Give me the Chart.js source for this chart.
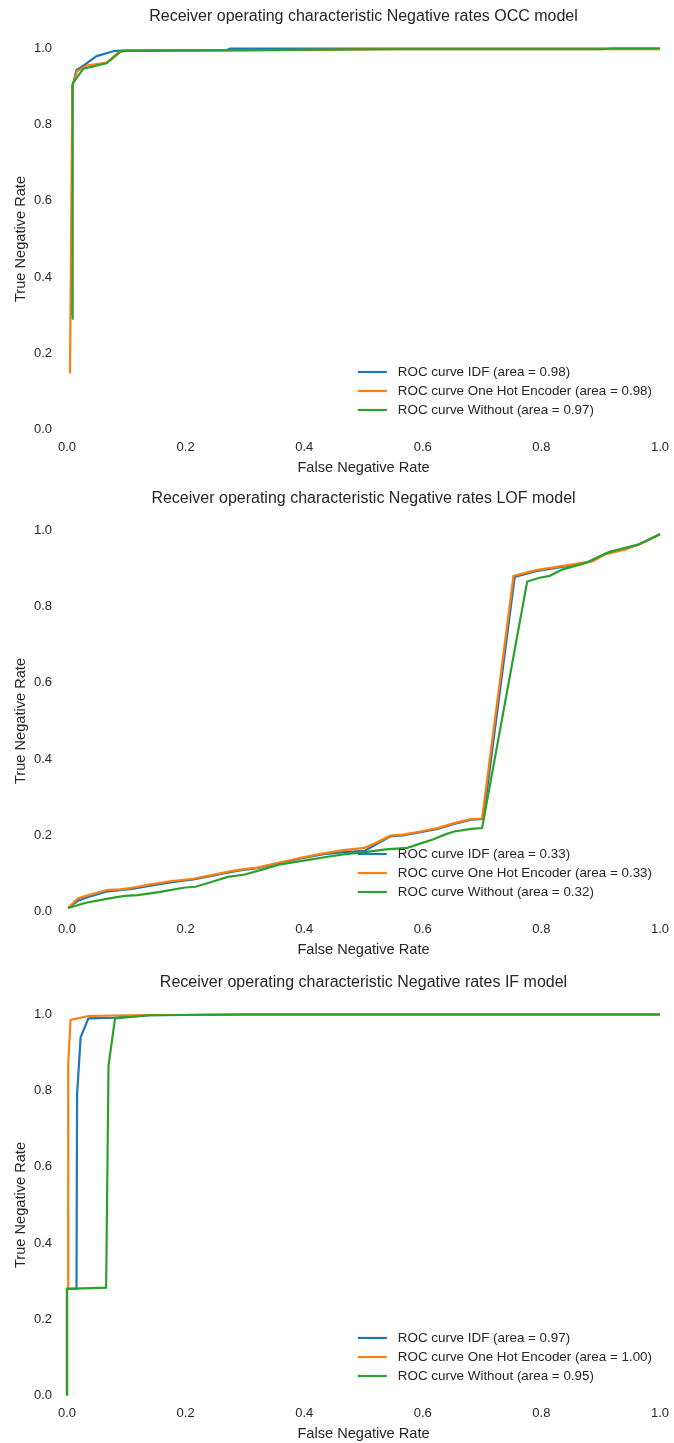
<!DOCTYPE html>
<html>
<head>
<meta charset="utf-8">
<script src="https://cdn.jsdelivr.net/npm/chart.js@4.4.1/dist/chart.umd.min.js"></script>
<style>
  html, body { margin: 0; padding: 0; background: #ffffff; overflow: hidden; }
  .panel { position: absolute; left: 0; width: 674px; height: 482px; }
</style>
</head>
<body>
<div class="panel" style="top:0px"><canvas id="occChart"></canvas></div>
<div class="panel" style="top:482px"><canvas id="lofChart"></canvas></div>
<div class="panel" style="top:966px"><canvas id="ifChart"></canvas></div>
<script>
// ROC points as [false negative rate, true negative rate]
const occIdf = [[0.008,0.30],[0.009,0.90],[0.016,0.943],[0.033,0.961],[0.05,0.98],[0.081,0.994],[0.15,0.995],[0.27,0.996],[0.275,1.0],[1.0,1.0]];
const occOneHot = [[0.005,0.147],[0.009,0.90],[0.017,0.94],[0.033,0.955],[0.067,0.963],[0.087,0.99],[0.1,0.995],[0.3,0.995],[0.55,0.998],[1.0,0.998]];
const occWithout = [[0.009,0.29],[0.0095,0.908],[0.0276,0.947],[0.0667,0.961],[0.092,0.994],[0.25,0.995],[0.55,0.998],[0.9,0.998],[0.92,1.0],[1.0,1.0]];

const lofIdf = [[0.002,0.009],[0.018,0.028],[0.036,0.038],[0.069,0.053],[0.09,0.056],[0.112,0.06],[0.141,0.068],[0.177,0.077],[0.213,0.084],[0.242,0.093],[0.264,0.1],[0.292,0.108],[0.321,0.114],[0.357,0.127],[0.394,0.139],[0.43,0.15],[0.466,0.156],[0.502,0.159],[0.523,0.178],[0.545,0.197],[0.567,0.2],[0.596,0.208],[0.625,0.217],[0.653,0.23],[0.682,0.241],[0.702,0.243],[0.755,0.878],[0.791,0.893],[0.853,0.909],[0.887,0.92],[0.909,0.94],[0.943,0.953],[0.965,0.964],[1.0,0.99]];
const lofOneHot = [[0.002,0.009],[0.018,0.034],[0.036,0.043],[0.069,0.057],[0.09,0.058],[0.112,0.063],[0.141,0.071],[0.177,0.08],[0.213,0.086],[0.242,0.095],[0.264,0.102],[0.292,0.11],[0.321,0.115],[0.357,0.128],[0.394,0.141],[0.43,0.152],[0.466,0.161],[0.502,0.167],[0.523,0.182],[0.545,0.199],[0.567,0.202],[0.596,0.21],[0.625,0.219],[0.653,0.232],[0.682,0.243],[0.70,0.244],[0.753,0.881],[0.791,0.896],[0.853,0.911],[0.887,0.92],[0.909,0.938],[0.943,0.951],[0.965,0.964],[1.0,0.99]];
const lofWithout = [[0.002,0.009],[0.032,0.023],[0.069,0.034],[0.097,0.041],[0.119,0.043],[0.155,0.051],[0.199,0.063],[0.217,0.065],[0.249,0.08],[0.271,0.091],[0.30,0.097],[0.329,0.11],[0.357,0.123],[0.394,0.132],[0.437,0.143],[0.466,0.15],[0.502,0.156],[0.538,0.163],[0.574,0.167],[0.603,0.182],[0.617,0.189],[0.639,0.203],[0.653,0.21],[0.682,0.217],[0.70,0.219],[0.776,0.866],[0.797,0.876],[0.814,0.881],[0.836,0.898],[0.875,0.915],[0.892,0.928],[0.915,0.944],[0.943,0.955],[0.965,0.964],[1.0,0.99]];

const ifIdf = [[0.0,0.0],[0.0,0.28],[0.016,0.28],[0.017,0.79],[0.023,0.94],[0.036,0.99],[0.081,0.992],[0.14,0.998],[0.3,1.0],[1.0,1.0]];
const ifOneHot = [[0.0,0.0],[0.0,0.28],[0.002,0.28],[0.002,0.87],[0.006,0.986],[0.036,0.996],[0.1,0.998],[0.3,1.0],[1.0,1.0]];
const ifWithout = [[0.0,0.0],[0.0,0.28],[0.066,0.283],[0.07,0.866],[0.081,0.99],[0.14,0.998],[0.3,1.0],[1.0,1.0]];

const modelTitles = [
  'Receiver operating characteristic Negative rates OCC model',
  'Receiver operating characteristic Negative rates LOF model',
  'Receiver operating characteristic Negative rates IF model'
];
const seriesNames = ['ROC curve IDF', 'ROC curve One Hot Encoder', 'ROC curve Without'];
const occAreas = ['0.98', '0.98', '0.97'];
const lofAreas = ['0.33', '0.33', '0.32'];
const ifAreas = ['0.97', '1.00', '0.95'];
const axisTicks = [0, 0.2, 0.4, 0.6, 0.8, 1.0];

const FONT = "'Liberation Sans', Arial, Helvetica, sans-serif";
const TEXT = '#262626';
const COLORS = ['#1f77b4', '#ff7f0e', '#2ca02c'];

Chart.defaults.font.family = FONT;
Chart.defaults.color = TEXT;

// Title centred over the plot area rather than the whole canvas
const panelTitle = {
  id: 'panelTitle',
  afterDraw(chart, args, opts) {
    const { ctx, chartArea } = chart;
    ctx.save();
    ctx.font = opts.size + 'px ' + FONT;
    ctx.fillStyle = TEXT;
    ctx.textAlign = 'center';
    ctx.textBaseline = 'middle';
    ctx.fillText(opts.text, (chartArea.left + chartArea.right) / 2, opts.y);
    ctx.restore();
  }
};

// Legend drawn inside the plot area, anchored to its lower right corner
const cornerLegend = {
  id: 'cornerLegend',
  afterDatasetsDraw(chart, args, opts) {
    const { ctx, chartArea } = chart;
    const items = chart.data.datasets;
    ctx.save();
    ctx.font = opts.size + 'px ' + FONT;
    const maxW = Math.max(...items.map(d => ctx.measureText(d.label).width));
    const textLeft = chartArea.right - opts.rightInset - maxW;
    const n = items.length;
    items.forEach((d, i) => {
      const y = chartArea.bottom - opts.bottomInset - (n - 1 - i) * opts.rowGap;
      ctx.strokeStyle = d.borderColor;
      ctx.lineWidth = 2.2;
      ctx.beginPath();
      ctx.moveTo(textLeft - 40, y);
      ctx.lineTo(textLeft - 11, y);
      ctx.stroke();
      ctx.fillStyle = TEXT;
      ctx.textAlign = 'left';
      ctx.textBaseline = 'middle';
      ctx.fillText(d.label, textLeft, y);
    });
    ctx.restore();
  }
};

function toPoints(pairs) {
  return pairs.map(p => ({ x: p[0], y: p[1] }));
}

function makeChart(canvasId, title, series, areas) {
  const datasets = series.map((pts, i) => ({
    label: seriesNames[i] + ' (area = ' + areas[i] + ')',
    data: toPoints(pts),
    borderColor: COLORS[i],
    backgroundColor: COLORS[i],
    borderWidth: 2.2,
    pointRadius: 0,
    tension: 0,
    fill: false,
    clip: false,
    order: series.length - 1 - i
  }));
  const tickOpts = {
    font: { size: 13 },
    color: TEXT,
    autoSkip: false
  };
  return new Chart(document.getElementById(canvasId), {
    type: 'line',
    data: { datasets },
    plugins: [cornerLegend, panelTitle],
    options: {
      responsive: true,
      maintainAspectRatio: false,
      animation: false,
      events: [],
      layout: { padding: { left: 0, right: 14, top: 48.5, bottom: 0 } },
      plugins: {
        legend: { display: false },
        tooltip: { enabled: false },
        title: { display: false },
        panelTitle: { text: title, size: 16, y: 17 },
        cornerLegend: { size: 13.4, rightInset: 8, bottomInset: 19.5, rowGap: 19 }
      },
      scales: {
        x: {
          type: 'linear',
          min: 0,
          max: 1,
          grid: { display: false, drawTicks: false },
          border: { display: false },
          afterBuildTicks: s => { s.ticks = axisTicks.map(v => ({ value: v })); },
          afterFit: s => { s.height = 52.5; s.paddingLeft = 0; s.paddingRight = 0; },
          ticks: Object.assign({ padding: 10.5, callback: v => v.toFixed(1) }, tickOpts),
          title: {
            display: true,
            text: 'False Negative Rate',
            color: TEXT,
            font: { size: 14.6 },
            padding: { top: 0, bottom: 5.5 }
          }
        },
        y: {
          type: 'linear',
          min: 0,
          max: 1,
          grid: { display: false, drawTicks: false },
          border: { display: false },
          afterBuildTicks: s => { s.ticks = axisTicks.map(v => ({ value: v })); },
          afterFit: s => { s.width = 67; s.paddingTop = 0; s.paddingBottom = 0; },
          ticks: Object.assign({ padding: 15, callback: v => v.toFixed(1) }, tickOpts),
          title: {
            display: true,
            text: 'True Negative Rate',
            color: TEXT,
            font: { size: 14.6 },
            padding: { top: 12.5, bottom: 0 }
          }
        }
      }
    }
  });
}

makeChart('occChart', modelTitles[0], [occIdf, occOneHot, occWithout], occAreas);
makeChart('lofChart', modelTitles[1], [lofIdf, lofOneHot, lofWithout], lofAreas);
makeChart('ifChart', modelTitles[2], [ifIdf, ifOneHot, ifWithout], ifAreas);
</script>
</body>
</html>
